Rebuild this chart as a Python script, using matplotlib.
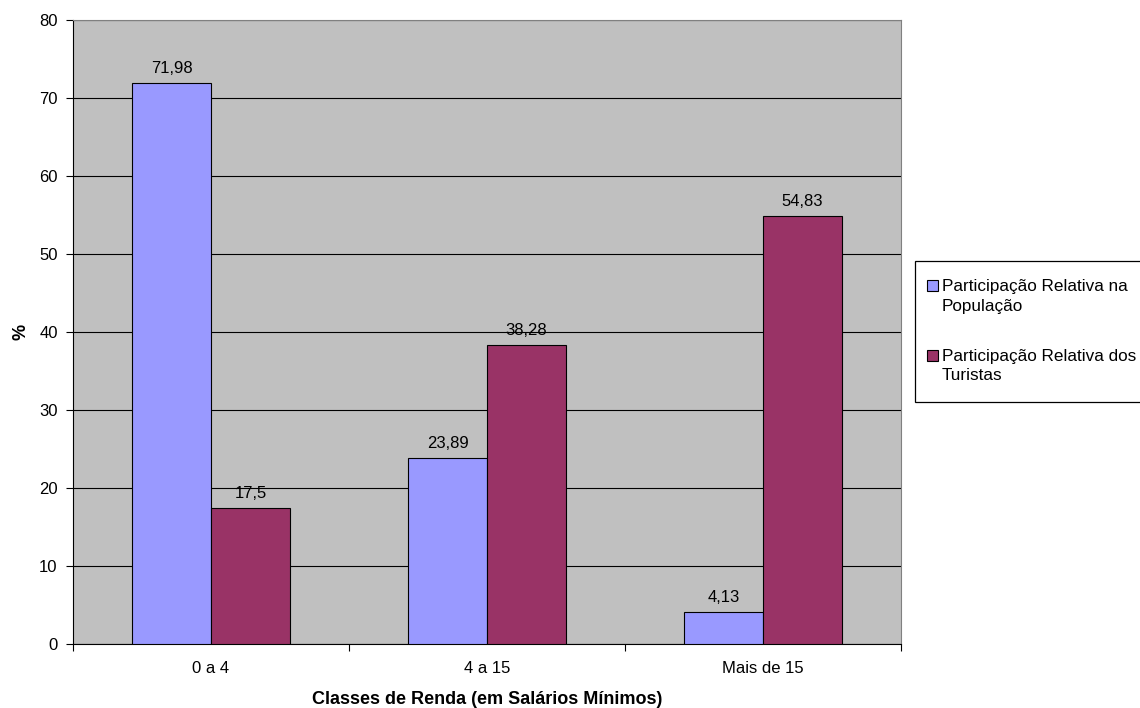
import matplotlib.pyplot as plt
from matplotlib.patches import Rectangle
import numpy as np

plt.rcParams['font.family'] = ['Liberation Sans', 'DejaVu Sans']

categories = ['0 a 4', '4 a 15', 'Mais de 15']
populacao = [71.98, 23.89, 4.13]
turistas = [17.5, 38.28, 54.83]
lab_pop = ['71,98', '23,89', '4,13']
lab_tur = ['17,5', '38,28', '54,83']
series_names = [['Participação Relativa na', 'População'],
                ['Participação Relativa dos', 'Turistas']]
colors = ['#9999FF', '#993366']

W, H = 1140, 708
fig = plt.figure(figsize=(W/100, H/100), dpi=100)
ax = fig.add_axes([73/W, 1-644/H, (901-73)/W, (644-20)/H])
ax.set_facecolor('#C0C0C0')

x = np.arange(len(categories))
w = 0.286
b1 = ax.bar(x - w/2, populacao, w, color=colors[0], edgecolor='black', linewidth=0.8, zorder=3)
b2 = ax.bar(x + w/2, turistas, w, color=colors[1], edgecolor='black', linewidth=0.8, zorder=3)

for bars, labs in [(b1, lab_pop), (b2, lab_tur)]:
    for r, t in zip(bars, labs):
        ax.annotate(t, (r.get_x() + r.get_width()/2, r.get_height()), xytext=(0, 5),
                    textcoords='offset points', ha='center', va='bottom', fontsize=12)

ax.set_xlim(-0.5, 2.5)
ax.set_ylim(0, 80)
ax.set_yticks(range(0, 81, 10))
ax.yaxis.grid(True, color='black', linewidth=0.8, zorder=1)
ax.set_axisbelow(True)
ax.set_xticks(x)
ax.set_xticklabels(categories, fontsize=12)
ax.set_xticks([-0.5, 0.5, 1.5, 2.5], minor=True)
ax.tick_params(axis='x', which='major', length=0, pad=12)
ax.tick_params(axis='x', which='minor', length=5, direction='out', width=0.8)
ax.tick_params(axis='y', length=5, direction='out', width=0.8, labelsize=12, pad=6)

for s in ['top', 'right']:
    ax.spines[s].set_color('#808080')
for s in ['left', 'bottom']:
    ax.spines[s].set_color('black')
    ax.spines[s].set_linewidth(0.8)

ax.set_ylabel('%', fontsize=13, fontweight='bold', labelpad=7)
ax.set_xlabel('Classes de Renda (em Salários Mínimos)', fontsize=13, fontweight='bold', labelpad=11)

# legend box drawn by hand (pixel coordinates on an overlay)
lax = fig.add_axes([0, 0, 1, 1], zorder=5)
lax.set_xlim(0, W)
lax.set_ylim(H, 0)
lax.axis('off')
lax.add_patch(Rectangle((915, 261), 240, 141, facecolor='white', edgecolor='black', linewidth=0.9))
for i, (name, c) in enumerate(zip(series_names, colors)):
    y0 = 280 + i * 70
    lax.add_patch(Rectangle((927, y0), 11, 11, facecolor=c, edgecolor='black', linewidth=0.8))
    lax.text(942, y0 + 6, name[0], fontsize=12.3, va='center', ha='left')
    lax.text(942, y0 + 26, name[1], fontsize=12.3, va='center', ha='left')

fig.savefig('out.png', dpi=100)
